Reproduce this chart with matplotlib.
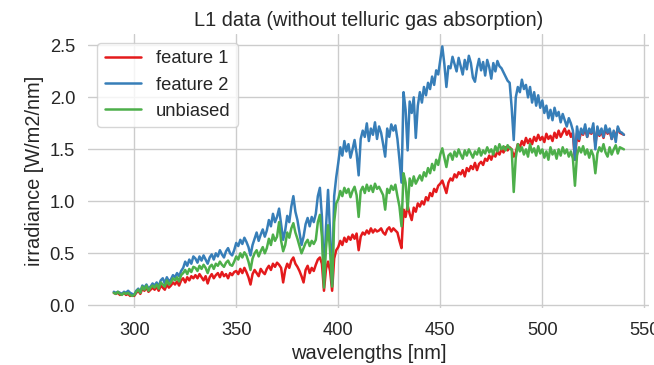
import numpy as np
import matplotlib
matplotlib.use("Agg")
import matplotlib.pyplot as plt
import seaborn as sns

# wavelength grid of the L1 product, 1 nm steps
wavelengths = np.arange(290, 541, 1)

# irradiance per channel [W/m2/nm]
feature_1 = [
    0.12, 0.11, 0.12, 0.10, 0.11, 0.12, 0.10, 0.11, 0.09, 0.10,  # 290
    0.09, 0.12, 0.14, 0.11, 0.16, 0.14, 0.17, 0.13, 0.15, 0.17,  # 300
    0.15, 0.18, 0.14, 0.19, 0.17, 0.15, 0.20, 0.17, 0.19, 0.22,  # 310
    0.20, 0.23, 0.19, 0.24, 0.26, 0.22, 0.27, 0.24, 0.28, 0.26,  # 320
    0.29, 0.26, 0.30, 0.27, 0.24, 0.28, 0.21, 0.27, 0.30, 0.26,  # 330
    0.29, 0.31, 0.27, 0.32, 0.28, 0.30, 0.26, 0.31, 0.29, 0.32,  # 340
    0.33, 0.30, 0.35, 0.31, 0.36, 0.32, 0.27, 0.20, 0.30, 0.34,  # 350
    0.31, 0.28, 0.35, 0.32, 0.30, 0.35, 0.38, 0.34, 0.40, 0.37,  # 360
    0.41, 0.39, 0.36, 0.22, 0.34, 0.40, 0.36, 0.43, 0.46, 0.40,  # 370
    0.37, 0.33, 0.28, 0.22, 0.34, 0.38, 0.31, 0.36, 0.33, 0.39,  # 380
    0.44, 0.46, 0.40, 0.14, 0.35, 0.42, 0.33, 0.14, 0.45, 0.53,  # 390
    0.56, 0.62, 0.58, 0.65, 0.61, 0.66, 0.63, 0.68, 0.64, 0.69,  # 400
    0.53, 0.66, 0.70, 0.68, 0.72, 0.69, 0.74, 0.70, 0.73, 0.71,  # 410
    0.72, 0.74, 0.70, 0.68, 0.73, 0.75, 0.71, 0.74, 0.72, 0.70,  # 420
    0.62, 0.55, 0.92, 0.85, 0.96, 0.88, 0.82, 0.94, 0.90, 0.98,  # 430
    0.95, 1.00, 0.97, 1.04, 1.01, 1.08, 1.05, 1.12, 1.09, 1.15,  # 440
    1.17, 1.20, 1.14, 1.08, 1.18, 1.22, 1.20, 1.26, 1.23, 1.28,  # 450
    1.26, 1.30, 1.24, 1.32, 1.29, 1.34, 1.31, 1.37, 1.30, 1.36,  # 460
    1.38, 1.35, 1.41, 1.39, 1.44, 1.40, 1.46, 1.43, 1.48, 1.45,  # 470
    1.50, 1.47, 1.52, 1.49, 1.52, 1.50, 1.43, 1.47, 1.55, 1.52,  # 480
    1.58, 1.54, 1.61, 1.56, 1.60, 1.55, 1.62, 1.58, 1.64, 1.59,  # 490
    1.62, 1.57, 1.65, 1.60, 1.63, 1.58, 1.66, 1.61, 1.68, 1.62,  # 500
    1.66, 1.70, 1.64, 1.68, 1.62, 1.66, 1.40, 1.65, 1.58, 1.67,  # 510
    1.64, 1.70, 1.62, 1.68, 1.65, 1.71, 1.55, 1.69, 1.63, 1.67,  # 520
    1.61, 1.70, 1.65, 1.68, 1.60, 1.66, 1.63, 1.70, 1.66, 1.65,  # 530
    1.64,
]

feature_2 = [
    0.13, 0.12, 0.13, 0.12, 0.11, 0.13, 0.12, 0.14, 0.12, 0.11,  # 290
    0.10, 0.14, 0.16, 0.13, 0.19, 0.17, 0.20, 0.16, 0.18, 0.21,  # 300
    0.19, 0.22, 0.18, 0.24, 0.26, 0.21, 0.27, 0.23, 0.25, 0.29,  # 310
    0.27, 0.31, 0.28, 0.33, 0.36, 0.42, 0.38, 0.44, 0.40, 0.47,  # 320
    0.45, 0.41, 0.47, 0.43, 0.48, 0.44, 0.40, 0.46, 0.49, 0.44,  # 330
    0.50, 0.47, 0.53, 0.49, 0.46, 0.52, 0.55, 0.50, 0.48, 0.53,  # 340
    0.60, 0.57, 0.63, 0.59, 0.65, 0.61, 0.56, 0.48, 0.58, 0.64,  # 350
    0.70, 0.62, 0.68, 0.73, 0.66, 0.72, 0.82, 0.76, 0.88, 0.80,  # 360
    0.85, 0.93, 0.78, 0.63, 0.72, 0.86, 0.80, 0.95, 1.05, 0.90,  # 370
    0.82, 0.70, 0.58, 0.66, 0.78, 0.84, 0.76, 0.85, 0.80, 0.88,  # 380
    1.05, 1.13, 0.85, 0.25, 0.75, 1.11, 0.70, 0.20, 1.05, 1.23,  # 390
    1.37, 1.52, 1.44, 1.58, 1.48, 1.55, 1.42, 1.50, 1.59, 1.46,  # 400
    1.25, 1.60, 1.68, 1.62, 1.75, 1.58, 1.70, 1.64, 1.76, 1.60,  # 410
    1.72, 1.66, 1.55, 1.43, 1.70, 1.62, 1.74, 1.68, 1.73, 1.60,  # 420
    1.40, 1.18, 2.05, 1.88, 1.49, 1.96, 1.85, 2.00, 1.61, 1.92,  # 430
    2.05, 1.95, 2.10, 2.02, 2.14, 2.08, 2.20, 2.12, 2.26, 2.22,  # 440
    2.36, 2.49, 2.32, 2.10, 2.30, 2.28, 2.39, 2.32, 2.25, 2.38,  # 450
    2.30, 2.22, 2.36, 2.27, 2.40, 2.33, 2.19, 2.15, 2.28, 2.37,  # 460
    2.26, 2.34, 2.21, 2.36, 2.29, 2.18, 2.33, 2.25, 2.35, 2.30,  # 470
    2.28, 2.24, 2.20, 2.16, 2.14, 1.90, 1.59, 2.00, 2.10, 2.05,  # 480
    2.17, 2.08, 2.12, 2.00, 2.10, 1.95, 2.05, 1.92, 2.02, 1.90,  # 490
    1.97, 1.85, 1.92, 1.80, 1.88, 1.78, 1.90, 1.82, 1.86, 1.76,  # 500
    1.84, 1.78, 1.72, 1.80, 1.75, 1.68, 1.40, 1.72, 1.60, 1.70,  # 510
    1.65, 1.74, 1.62, 1.70, 1.66, 1.75, 1.50, 1.72, 1.64, 1.70,  # 520
    1.62, 1.73, 1.66, 1.70, 1.60, 1.68, 1.57, 1.72, 1.67, 1.66,  # 530
    1.64,
]

unbiased = [
    0.12, 0.11, 0.13, 0.11, 0.10, 0.12, 0.11, 0.12, 0.10, 0.09,  # 290
    0.10, 0.13, 0.15, 0.12, 0.18, 0.15, 0.19, 0.14, 0.17, 0.19,  # 300
    0.17, 0.20, 0.16, 0.22, 0.20, 0.18, 0.24, 0.20, 0.22, 0.26,  # 310
    0.24, 0.27, 0.23, 0.29, 0.31, 0.34, 0.30, 0.35, 0.32, 0.37,  # 320
    0.36, 0.33, 0.38, 0.35, 0.39, 0.36, 0.31, 0.37, 0.39, 0.35,  # 330
    0.40, 0.38, 0.42, 0.39, 0.37, 0.41, 0.43, 0.39, 0.38, 0.42,  # 340
    0.47, 0.44, 0.50, 0.46, 0.51, 0.48, 0.42, 0.34, 0.45, 0.50,  # 350
    0.53, 0.47, 0.52, 0.56, 0.50, 0.55, 0.64, 0.58, 0.68, 0.62,  # 360
    0.66, 0.80, 0.62, 0.52, 0.58, 0.70, 0.65, 0.74, 0.79, 0.70,  # 370
    0.64, 0.57, 0.50, 0.55, 0.60, 0.63, 0.57, 0.62, 0.59, 0.63,  # 380
    0.80, 0.87, 0.66, 0.17, 0.55, 0.77, 0.52, 0.18, 0.80, 0.98,  # 390
    1.02, 1.10, 1.05, 1.13, 1.08, 1.12, 1.04, 1.10, 1.14, 1.06,  # 400
    0.85, 1.10, 1.14, 1.08, 1.16, 1.10, 1.15, 1.09, 1.17, 1.12,  # 410
    1.14, 1.10, 1.06, 0.92, 1.12, 1.08, 1.15, 1.11, 1.16, 1.05,  # 420
    0.95, 0.76, 1.27, 1.18, 0.92, 1.22, 1.15, 1.24, 1.17, 1.21,  # 430
    1.25, 1.20, 1.28, 1.24, 1.32, 1.27, 1.36, 1.30, 1.40, 1.35,  # 440
    1.45, 1.51, 1.42, 1.33, 1.44, 1.46, 1.40, 1.48, 1.43, 1.50,  # 450
    1.45, 1.41, 1.49, 1.44, 1.50, 1.46, 1.42, 1.48, 1.45, 1.51,  # 460
    1.44, 1.49, 1.46, 1.52, 1.47, 1.50, 1.45, 1.53, 1.48, 1.55,  # 470
    1.50, 1.53, 1.49, 1.54, 1.51, 1.50, 1.09, 1.42, 1.55, 1.48,  # 480
    1.52, 1.45, 1.50, 1.43, 1.55, 1.47, 1.51, 1.44, 1.53, 1.46,  # 490
    1.50, 1.42, 1.48, 1.40, 1.52, 1.45, 1.49, 1.41, 1.50, 1.44,  # 500
    1.52, 1.46, 1.50, 1.43, 1.48, 1.41, 1.15, 1.44, 1.52, 1.47,  # 510
    1.53, 1.45, 1.50, 1.42, 1.49, 1.44, 1.27, 1.46, 1.52, 1.48,  # 520
    1.55, 1.47, 1.43, 1.52, 1.45, 1.50, 1.54, 1.46, 1.52, 1.51,  # 530
    1.50,
]

series = [("feature 1", feature_1, "#e41a1c"),
          ("feature 2", feature_2, "#377eb8"),
          ("unbiased", unbiased, "#4daf4a")]

sns.set_theme(style="whitegrid", font_scale=1.2)
plt.rcParams["font.family"] = ["Liberation Sans", "DejaVu Sans"]

fig = plt.figure(figsize=(6.54, 3.65), dpi=100)
ax = fig.add_axes([0.135, 0.155, 0.858, 0.752])

for label, values, color in series:
    ax.plot(wavelengths, values, color=color, lw=1.8, label=label)

ax.set_xlim(277.5, 552.5)
ax.set_ylim(-0.03, 2.61)
ax.set_xticks([300, 350, 400, 450, 500, 550])
ax.set_yticks([0.0, 0.5, 1.0, 1.5, 2.0, 2.5])
for s in ax.spines.values():
    s.set_visible(False)

ax.set_title("L1 data (without telluric gas absorption)")
ax.set_xlabel("wavelengths [nm]")
ax.set_ylabel("irradiance [W/m2/nm]")
ax.legend(loc="upper left")

fig.savefig("out.png", dpi=100)
